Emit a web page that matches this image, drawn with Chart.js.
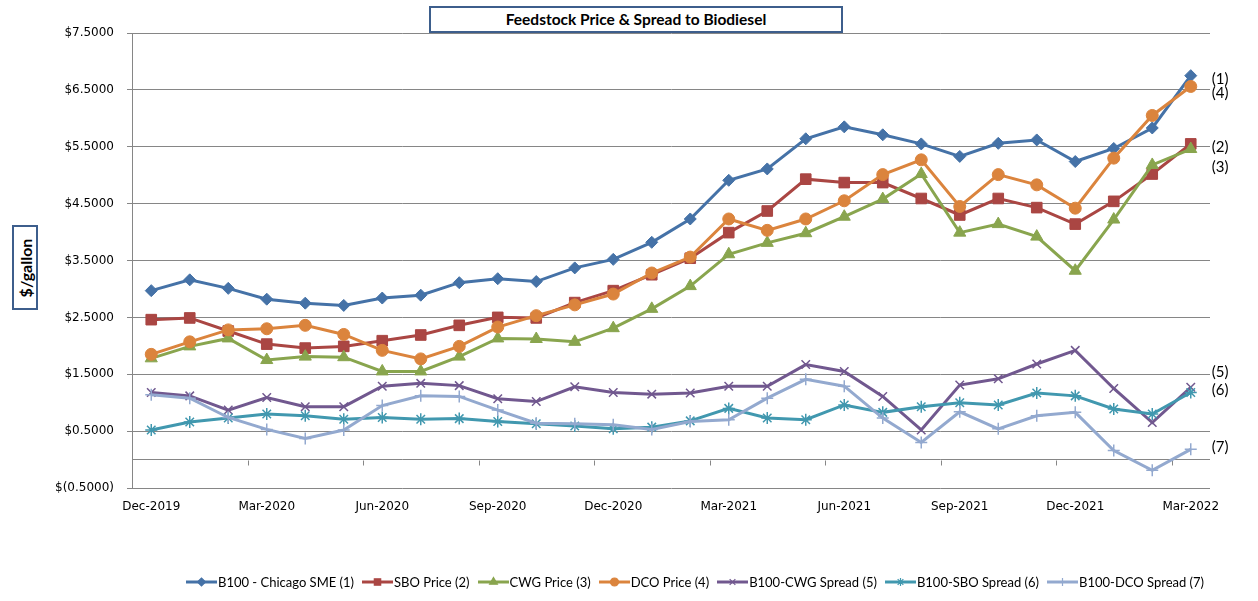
<!DOCTYPE html>
<html><head><meta charset="utf-8">
<script src="https://cdn.jsdelivr.net/npm/chart.js@4.4.1/dist/chart.umd.min.js"></script>
<style>
html,body{margin:0;padding:0;background:#fff;}
#wrap{position:relative;width:1258px;height:601px;overflow:hidden;background:#fff;}
#c{position:absolute;left:0;top:0;}
#title{position:absolute;left:429px;top:6px;width:414px;height:27px;box-sizing:border-box;border:2px solid #3D5E8C;background:#fff;font:bold 15.5px Lato,sans-serif;text-align:center;line-height:23px;color:#000;}
#ylab{position:absolute;left:12px;top:225px;width:26px;height:85px;box-sizing:border-box;border:2px solid #3D5E8C;background:#fff;}
#ylab span{position:absolute;left:50%;top:50%;transform:translate(-50%,-50%) rotate(-90deg);font:bold 16px Lato,sans-serif;white-space:nowrap;color:#000;}
#legend{position:absolute;left:186px;top:574px;display:flex;gap:8px;font:13px Lato,sans-serif;color:#000;white-space:nowrap;}
.item{display:flex;align-items:center;height:16px;}
.item canvas{margin-right:1px;}
</style></head><body>
<div id="wrap"><canvas id="c" width="1258" height="601"></canvas>
<div id="title">Feedstock Price &amp; Spread to Biodiesel</div>
<div id="ylab"><span>$/gallon</span></div>
<div id="legend"></div></div>
<script>
const months = ['Dec-2019','Jan-2020','Feb-2020','Mar-2020','Apr-2020','May-2020','Jun-2020','Jul-2020','Aug-2020','Sep-2020','Oct-2020','Nov-2020',
  'Dec-2020','Jan-2021','Feb-2021','Mar-2021','Apr-2021','May-2021','Jun-2021','Jul-2021','Aug-2021','Sep-2021','Oct-2021','Nov-2021',
  'Dec-2021','Jan-2022','Feb-2022','Mar-2022'];
const yTicks = [-0.5, 0, 0.5, 1.5, 2.5, 3.5, 4.5, 5.5, 6.5, 7.5];
const seriesNames = ['B100 - Chicago SME (1)','SBO Price (2)','CWG Price (3)','DCO Price (4)','B100-CWG Spread (5)','B100-SBO Spread (6)','B100-DCO Spread (7)'];
const endTags = ['(1)','(2)','(3)','(4)','(5)','(6)','(7)'];

const b100 = [2.97,3.16,3.01,2.82,2.75,2.71,2.84,2.89,3.11,3.18,3.13,3.37,3.52,3.82,4.23,4.91,5.11,5.64,5.85,5.71,5.55,5.33,5.56,5.62,5.24,5.47,5.83,6.75];
const sbo = [2.46,2.49,2.26,2.03,1.96,1.99,2.09,2.19,2.36,2.50,2.49,2.76,2.97,3.25,3.54,3.99,4.37,4.93,4.87,4.87,4.59,4.30,4.59,4.43,4.14,4.54,5.02,5.55];
const cwg = [1.78,1.99,2.13,1.75,1.81,1.80,1.55,1.55,1.81,2.13,2.12,2.07,2.31,2.65,3.05,3.61,3.81,3.98,4.27,4.58,5.02,3.99,4.14,3.92,3.32,4.22,5.18,5.46];
const dco = [1.85,2.07,2.28,2.30,2.36,2.20,1.92,1.77,1.99,2.33,2.53,2.72,2.91,3.28,3.56,4.23,4.03,4.23,4.55,5.01,5.27,4.45,5.01,4.83,4.42,5.30,6.05,6.56];
const spreadCwg = [1.18,1.12,0.87,1.09,0.93,0.93,1.29,1.34,1.30,1.07,1.02,1.28,1.18,1.15,1.17,1.29,1.29,1.67,1.55,1.11,0.52,1.31,1.42,1.68,1.92,1.25,0.65,1.27];
const spreadSbo = [0.52,0.66,0.73,0.80,0.77,0.71,0.74,0.71,0.72,0.67,0.63,0.59,0.54,0.57,0.68,0.90,0.73,0.70,0.96,0.83,0.93,1.00,0.96,1.17,1.12,0.89,0.80,1.18];
const spreadDco = [1.14,1.08,0.74,0.53,0.37,0.52,0.95,1.12,1.11,0.87,0.64,0.63,0.61,0.53,0.67,0.70,1.08,1.41,1.29,0.73,0.30,0.84,0.54,0.77,0.83,0.16,-0.19,0.18];

const seriesData = [b100, sbo, cwg, dco, spreadCwg, spreadSbo, spreadDco];
const colors = ['#4572A7','#AA4643','#89A54E','#DB843D','#71588F','#4198AF','#93A9CF'];
const styles = ['rectRot','rect','triangle','circle','crossRot','star','cross'];
const radii = [6,7.5,7,6,6,6,6];
const legendRadii = [4,4.5,4.5,4,4,4,4];
const tagDy = [3,3,18,7,-15,-2,-2];
const gridColor = '#868686';

const datasets = seriesData.map((d,i)=>({
  label: seriesNames[i],
  data: d,
  borderColor: colors[i],
  backgroundColor: colors[i],
  borderWidth: 3,
  pointStyle: styles[i],
  pointRadius: radii[i],
  pointBackgroundColor: colors[i],
  pointBorderColor: colors[i],
  pointBorderWidth: (i>=4)?1.5:1,
  tension: 0,
  order: 6 - i,
  tag: endTags[i],
  tagDy: tagDy[i]
}));

const extras = {
  id: 'extras',
  beforeDatasetsDraw(chart){
    const {ctx, scales:{x, y}} = chart;
    ctx.save();
    ctx.strokeStyle = gridColor; ctx.lineWidth = 1;
    const y0 = Math.round(y.getPixelForValue(0)) + 0.5;
    const w = (x.right - x.left) / months.length;
    for (let k = 3; k < months.length; k += 3) {
      const px = Math.round(x.left + k*w) + 0.5;
      ctx.beginPath(); ctx.moveTo(px, y0); ctx.lineTo(px, y0 + 5); ctx.stroke();
    }
    ctx.restore();
  },
  afterDatasetsDraw(chart){
    const {ctx, scales:{x, y}} = chart;
    ctx.save();
    ctx.font = '15px Lato, sans-serif';
    ctx.fillStyle = '#000';
    ctx.textBaseline = 'middle';
    ctx.textAlign = 'left';
    chart.data.datasets.forEach(ds=>{
      const last = ds.data.length - 1;
      const px = x.getPixelForValue(last) + 21;
      const py = y.getPixelForValue(ds.data[last]) + ds.tagDy;
      ctx.fillText(ds.tag, px, py);
    });
    ctx.restore();
  }
};

function fmt(v){
  if (v < 0) return '$(' + Math.abs(v).toFixed(4) + ')';
  return '$' + v.toFixed(4);
}

new Chart(document.getElementById('c'), {
  type: 'line',
  data: { labels: months, datasets },
  options: {
    responsive: false,
    animation: false,
    devicePixelRatio: 1,
    layout: { padding: { top: 33, right: 48, bottom: 73, left: 0 } },
    plugins: { legend: { display: false }, title: { display: false }, tooltip: { enabled: false } },
    scales: {
      x: {
        type: 'category',
        offset: true,
        grid: { display: false, drawTicks: false },
        border: { display: false },
        ticks: {
          autoSkip: false, maxRotation: 0, minRotation: 0, padding: 12,
          color: '#000', font: { family: 'DejaVu Sans', size: 12 },
          callback: function(val, idx){ return idx % 3 === 0 ? months[idx] : null; }
        },
        afterFit(s){ s.height = 40; }
      },
      y: {
        min: -0.5, max: 7.5,
        afterBuildTicks(s){ s.ticks = yTicks.map(v=>({value: v})); },
        afterFit(s){ s.width = 132; },
        grid: {
          color: gridColor, lineWidth: 1, drawTicks: true, tickLength: 5,
          tickColor: ctx => (ctx.tick && ctx.tick.value === 0) ? 'rgba(0,0,0,0)' : gridColor
        },
        border: { display: true, color: gridColor, width: 1 },
        ticks: {
          padding: 13, color: '#000', font: { family: 'DejaVu Sans', size: 12 },
          callback: v => (v === 0 ? '' : fmt(v))
        }
      }
    }
  },
  plugins: [extras]
});

// HTML legend
const legend = document.getElementById('legend');
seriesNames.forEach((name, i)=>{
  const item = document.createElement('div'); item.className = 'item';
  const cv = document.createElement('canvas'); cv.width = 31; cv.height = 14;
  const g = cv.getContext('2d');
  g.strokeStyle = colors[i]; g.lineWidth = 3;
  g.beginPath(); g.moveTo(0, 7); g.lineTo(31, 7); g.stroke();
  g.fillStyle = colors[i]; g.lineWidth = 1.2;
  Chart.helpers.drawPoint(g, { pointStyle: styles[i], radius: legendRadii[i], borderWidth: 1.2, rotation: 0 }, 15.5, 7);
  const sp = document.createElement('span'); sp.textContent = name;
  item.appendChild(cv); item.appendChild(sp);
  legend.appendChild(item);
});
</script>
</body></html>
